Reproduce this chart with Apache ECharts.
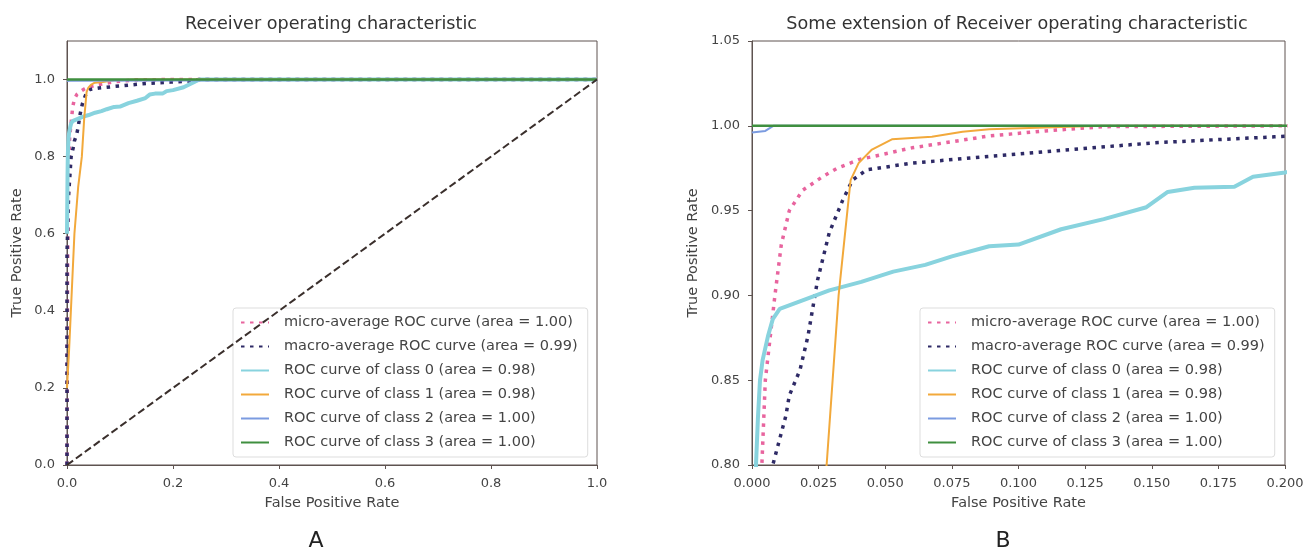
<!DOCTYPE html>
<html>
<head>
<meta charset="utf-8">
<title>ROC curves</title>
<script src="https://cdn.jsdelivr.net/npm/echarts@6/dist/echarts.min.js"></script>
<style>
  html, body { margin: 0; padding: 0; background: #fff; }
  #main { width: 1314px; height: 557px; }
</style>
</head>
<body>
<div id="main"></div>
<script>
// curve data (fpr = x, tpr = y)
var microFpr = [0, 0.001, 0.003, 0.0037, 0.005, 0.0086, 0.011, 0.014, 0.019, 0.0265, 0.032, 0.04, 0.06, 0.089, 0.11, 0.132, 0.2, 1];
var microTpr = [0, 0.5, 0.75, 0.8, 0.85, 0.9, 0.93, 0.95, 0.962, 0.97, 0.975, 0.98, 0.987, 0.994, 0.997, 0.9995, 1, 1];

var macroFpr = [0, 0, 0.003, 0.0078, 0.0127, 0.014, 0.018, 0.021, 0.0246, 0.029, 0.034, 0.0377, 0.043, 0.06, 0.089, 0.151, 0.196, 0.23, 0.25, 1];
var macroTpr = [0, 0.55, 0.7, 0.8, 0.829, 0.841, 0.856, 0.876, 0.909, 0.937, 0.956, 0.968, 0.974, 0.978, 0.982, 0.99, 0.9935, 0.996, 1, 1];

var class0Fpr = [0, 0.001, 0.0015, 0.0022, 0.003, 0.004, 0.006, 0.0078, 0.0104, 0.0205, 0.029, 0.041, 0.053, 0.065, 0.075, 0.089, 0.1, 0.116, 0.132, 0.148, 0.156, 0.166, 0.181, 0.188, 0.2, 0.22, 0.25, 1];
var class0Tpr = [0.6, 0.75, 0.8, 0.827, 0.85, 0.862, 0.876, 0.886, 0.892, 0.898, 0.903, 0.908, 0.914, 0.918, 0.923, 0.929, 0.93, 0.939, 0.945, 0.952, 0.961, 0.9635, 0.964, 0.97, 0.9725, 0.98, 1, 1];

var class1Fpr = [0, 0.004, 0.009, 0.014, 0.021, 0.028, 0.0325, 0.0358, 0.037, 0.04, 0.045, 0.0525, 0.0675, 0.079, 0.089, 0.11, 0.131, 1];
var class1Tpr = [0.2, 0.3, 0.45, 0.6, 0.72, 0.8, 0.9, 0.95, 0.968, 0.978, 0.986, 0.992, 0.9935, 0.9965, 0.998, 0.999, 1, 1];

var class2Fpr = [0, 0.005, 0.008, 1];
var class2Tpr = [0.996, 0.997, 1, 1];

var class3Fpr = [0, 1];
var class3Tpr = [1, 1];

var chanceFpr = [0, 1];
var chanceTpr = [0, 1];

var curveNames = [
  'micro-average ROC curve (area = 1.00)',
  'macro-average ROC curve (area = 0.99)',
  'ROC curve of class 0 (area = 0.98)',
  'ROC curve of class 1 (area = 0.98)',
  'ROC curve of class 2 (area = 1.00)',
  'ROC curve of class 3 (area = 1.00)'
];

var ticksA = [0, 0.2, 0.4, 0.6, 0.8, 1.0];
var yTicksB = [0.8, 0.85, 0.9, 0.95, 1.0, 1.05];

function zip(xs, ys) {
  return xs.map(function (x, i) { return [x, ys[i]]; });
}

var curves = [
  { data: zip(microFpr, microTpr), color: '#e8649e', width: 3.5, type: [3.5, 5.5] },
  { data: zip(macroFpr, macroTpr), color: '#2e2a66', width: 3.5, type: [3.5, 5.5] },
  { data: zip(class0Fpr, class0Tpr), color: '#88d3de', width: 4, type: 'solid' },
  { data: zip(class1Fpr, class1Tpr), color: '#f2a93b', width: 2, type: 'solid' },
  { data: zip(class2Fpr, class2Tpr), color: '#7b9be0', width: 2, type: 'solid' },
  { data: zip(class3Fpr, class3Tpr), color: '#3f8f3f', width: 2.5, type: 'solid' }
];

var FONT = 'DejaVu Sans';
var axisColor = '#5e5350';
var tickLabel = { color: '#444', fontSize: 13, fontFamily: FONT, margin: 12 };

function makeAxis(extra) {
  var base = {
    type: 'value',
    axisLine: { show: true, onZero: false, lineStyle: { color: axisColor, width: 1 } },
    axisTick: { show: true, length: 4, lineStyle: { color: axisColor } },
    axisLabel: Object.assign({}, tickLabel),
    splitLine: { show: false },
    nameLocation: 'middle',
    nameTextStyle: { color: '#444', fontSize: 14.5, fontFamily: FONT }
  };
  return Object.assign(base, extra);
}

var series = [];
[0, 1].forEach(function (g) {
  curves.forEach(function (c, i) {
    series.push({
      type: 'line',
      name: curveNames[i],
      xAxisIndex: g,
      yAxisIndex: g,
      data: c.data,
      symbol: 'none',
      showSymbol: false,
      clip: true,
      lineStyle: { color: c.color, width: c.width, type: c.type },
      itemStyle: { color: c.color },
      z: 2 + i
    });
  });
  series.push({
    type: 'line',
    name: 'chance',
    xAxisIndex: g,
    yAxisIndex: g,
    data: zip(chanceFpr, chanceTpr),
    symbol: 'none',
    clip: true,
    lineStyle: { color: '#3a2f2c', width: 2, type: [7.5, 3.5] },
    z: 10
  });
});

function makeLegend(left) {
  return {
    data: curveNames,
    orient: 'vertical',
    left: left,
    top: 308,
    itemWidth: 28,
    itemHeight: 14,
    itemGap: 9,
    padding: [7, 10, 7, 7],
    backgroundColor: 'rgba(255,255,255,0.85)',
    borderColor: '#dddddd',
    borderWidth: 1,
    borderRadius: 3,
    selectedMode: false,
    itemStyle: { opacity: 0 },
    textStyle: { color: '#444', fontSize: 14.5, fontFamily: FONT, padding: [0, 0, 0, 10] }
  };
}

var titleStyle = { fontSize: 17.6, fontWeight: 'normal', color: '#333', fontFamily: FONT };
var panelStyle = { fontSize: 22, fontWeight: 'normal', color: '#222', fontFamily: FONT };

var option = {
  animation: false,
  backgroundColor: '#ffffff',
  title: [
    { text: 'Receiver operating characteristic', left: 331, top: 15, padding: 0, textAlign: 'center', textStyle: titleStyle },
    { text: 'Some extension of Receiver operating characteristic', left: 1017, top: 15, padding: 0, textAlign: 'center', textStyle: titleStyle },
    { text: 'A', left: 316, top: 530, padding: 0, textAlign: 'center', textStyle: panelStyle },
    { text: 'B', left: 1003, top: 530, padding: 0, textAlign: 'center', textStyle: panelStyle }
  ],
  legend: [makeLegend(233), makeLegend(920)],
  grid: [
    { left: 67, top: 41, width: 530, height: 424, show: true, borderColor: axisColor, borderWidth: 1, containLabel: false },
    { left: 752, top: 41, width: 533, height: 424, show: true, borderColor: axisColor, borderWidth: 1, containLabel: false }
  ],
  xAxis: [
    makeAxis({
      gridIndex: 0, min: 0, max: 1, interval: 0.2,
      name: 'False Positive Rate', nameGap: 31,
      axisLabel: Object.assign({}, tickLabel, { customValues: ticksA, formatter: function (v) { return v.toFixed(1); } }),
      axisTick: { show: true, length: 4, lineStyle: { color: axisColor }, customValues: ticksA }
    }),
    makeAxis({
      gridIndex: 1, min: 0, max: 0.2, interval: 0.025,
      name: 'False Positive Rate', nameGap: 31,
      axisLabel: Object.assign({}, tickLabel, { formatter: function (v) { return v.toFixed(3); } })
    })
  ],
  yAxis: [
    makeAxis({
      gridIndex: 0, min: 0, max: 1.1, interval: 0.2,
      name: 'True Positive Rate', nameGap: 42,
      axisLabel: Object.assign({}, tickLabel, { customValues: ticksA, formatter: function (v) { return v.toFixed(1); } }),
      axisTick: { show: true, length: 4, lineStyle: { color: axisColor }, customValues: ticksA }
    }),
    makeAxis({
      gridIndex: 1, min: 0.8, max: 1.05, interval: 0.05,
      name: 'True Positive Rate', nameGap: 51,
      axisLabel: Object.assign({}, tickLabel, { customValues: yTicksB, formatter: function (v) { return v.toFixed(2); } }),
      axisTick: { show: true, length: 4, lineStyle: { color: axisColor }, customValues: yTicksB }
    })
  ],
  series: series
};

var chart = echarts.init(document.getElementById('main'), null, { renderer: 'canvas' });
chart.setOption(option);
</script>
</body>
</html>
